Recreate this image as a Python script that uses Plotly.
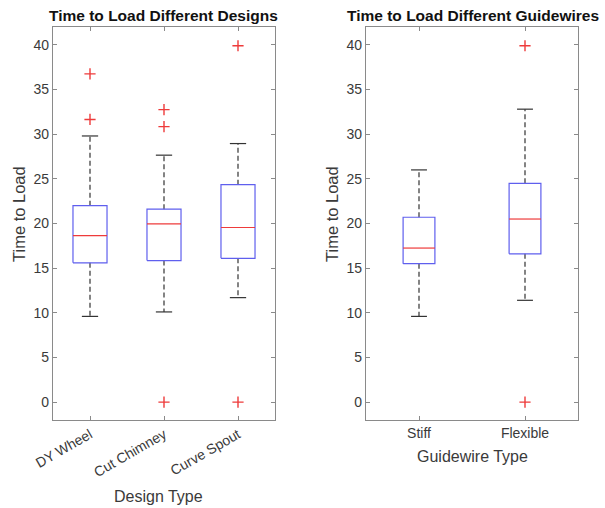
import plotly.graph_objects as go

# ---- data ----
design_cats = ["DY Wheel", "Cut Chimney", "Curve Spout"]
design_q1 = [15.6, 15.85, 16.1]
design_median = [18.65, 19.95, 19.55]
design_q3 = [22.0, 21.6, 24.35]
design_low = [9.6, 10.1, 11.7]
design_high = [29.8, 27.65, 28.95]
design_outliers = [[36.75, 31.65], [32.75, 30.85, 0.0], [39.9, 0.0]]

wire_cats = ["Stiff", "Flexible"]
wire_q1 = [15.5, 16.6]
wire_median = [17.25, 20.5]
wire_q3 = [20.7, 24.5]
wire_low = [9.6, 11.4]
wire_high = [26.0, 32.8]
wire_outliers = [[], [39.9, 0.0]]

BOX_C = "#5f5fee"
MED_C = "#ee3b3b"
AX_C = "#8a8a8a"
TXT_C = "#3a3a3a"
FONT = "Liberation Sans, Arial, sans-serif"

fig = go.Figure()


def add_group(cats, q1, med, q3, lo, hi, outs, xa, ya, hw, cw):
    for i, c in enumerate(cats):
        x = i + 1
        # whiskers (dashed)
        fig.add_trace(go.Scatter(x=[x, x, None, x, x], y=[q3[i], hi[i], None, q1[i], lo[i]],
                                 mode="lines", line=dict(color="#333333", width=1.2, dash="5px,3px"),
                                 xaxis=xa, yaxis=ya, showlegend=False, hoverinfo="skip"))
        # caps
        fig.add_trace(go.Scatter(x=[x - cw, x + cw, None, x - cw, x + cw],
                                 y=[hi[i], hi[i], None, lo[i], lo[i]],
                                 mode="lines", line=dict(color="#333333", width=1.2),
                                 xaxis=xa, yaxis=ya, showlegend=False, hoverinfo="skip"))
        # box
        fig.add_trace(go.Scatter(x=[x - hw, x + hw, x + hw, x - hw, x - hw],
                                 y=[q1[i], q1[i], q3[i], q3[i], q1[i]],
                                 mode="lines", line=dict(color=BOX_C, width=1.2),
                                 xaxis=xa, yaxis=ya, showlegend=False, hoverinfo="skip"))
        # median
        fig.add_trace(go.Scatter(x=[x - hw, x + hw], y=[med[i], med[i]],
                                 mode="lines", line=dict(color=MED_C, width=1.2),
                                 xaxis=xa, yaxis=ya, showlegend=False, hoverinfo="skip"))
        # outliers
        if outs[i]:
            fig.add_trace(go.Scatter(x=[x] * len(outs[i]), y=outs[i], mode="markers",
                                     marker=dict(symbol="cross-thin", size=8,
                                                 line=dict(color=MED_C, width=1.4)),
                                     xaxis=xa, yaxis=ya, showlegend=False, hoverinfo="skip"))


add_group(design_cats, design_q1, design_median, design_q3, design_low, design_high,
          design_outliers, "x", "y", 0.23, 0.11)
add_group(wire_cats, wire_q1, wire_median, wire_q3, wire_low, wire_high,
          wire_outliers, "x2", "y2", 0.15, 0.075)

ax_common = dict(showline=True, linecolor=AX_C, linewidth=1.2, mirror="ticks",
                 ticks="inside", ticklen=4, tickcolor=AX_C, showgrid=False, zeroline=False,
                 automargin=False,
                 tickfont=dict(family=FONT, size=14, color=TXT_C))

fig.update_layout(
    width=605, height=508,
    margin=dict(l=0, r=0, t=0, b=0, autoexpand=False),
    paper_bgcolor="white", plot_bgcolor="white",
    font=dict(family=FONT, color=TXT_C),
    xaxis=dict(domain=[53 / 605, 275 / 605], range=[0.5, 3.5], tickvals=[1, 2, 3],
               ticktext=design_cats, tickangle=-30, anchor="y", **ax_common),
    yaxis=dict(domain=[1 - 420 / 508, 1 - 27 / 508], range=[-2, 42], tickvals=list(range(0, 41, 5)),
               anchor="x", **ax_common),
    xaxis2=dict(domain=[366 / 605, 578 / 605], range=[0.5, 2.5], tickvals=[1, 2],
                ticktext=wire_cats, tickangle=0, anchor="y2", **ax_common),
    yaxis2=dict(domain=[1 - 420 / 508, 1 - 27 / 508], range=[-2, 42], tickvals=list(range(0, 41, 5)),
                anchor="x2", **ax_common),
)

ann = [
    dict(text="<b>Time to Load Different Designs</b>", x=164, y=16, size=15.5, angle=0, color="#111111"),
    dict(text="<b>Time to Load Different Guidewires</b>", x=473, y=16, size=15.5, angle=0, color="#111111"),
    dict(text="Time to Load", x=19, y=214, size=16.5, angle=-90, color=TXT_C),
    dict(text="Time to Load", x=332, y=214, size=16.5, angle=-90, color=TXT_C),
    dict(text="Design Type", x=158, y=496, size=16, angle=0, color=TXT_C),
    dict(text="Guidewire Type", x=472, y=456, size=16, angle=0, color=TXT_C),
]
for a in ann:
    fig.add_annotation(text=a["text"], x=a["x"] / 605, y=1 - a["y"] / 508, xref="paper", yref="paper",
                       showarrow=False, xanchor="center", yanchor="middle", textangle=a["angle"],
                       font=dict(family=FONT, size=a["size"], color=a["color"]))

fig.write_html("out.html", post_script="document.body.style.margin='0';")
